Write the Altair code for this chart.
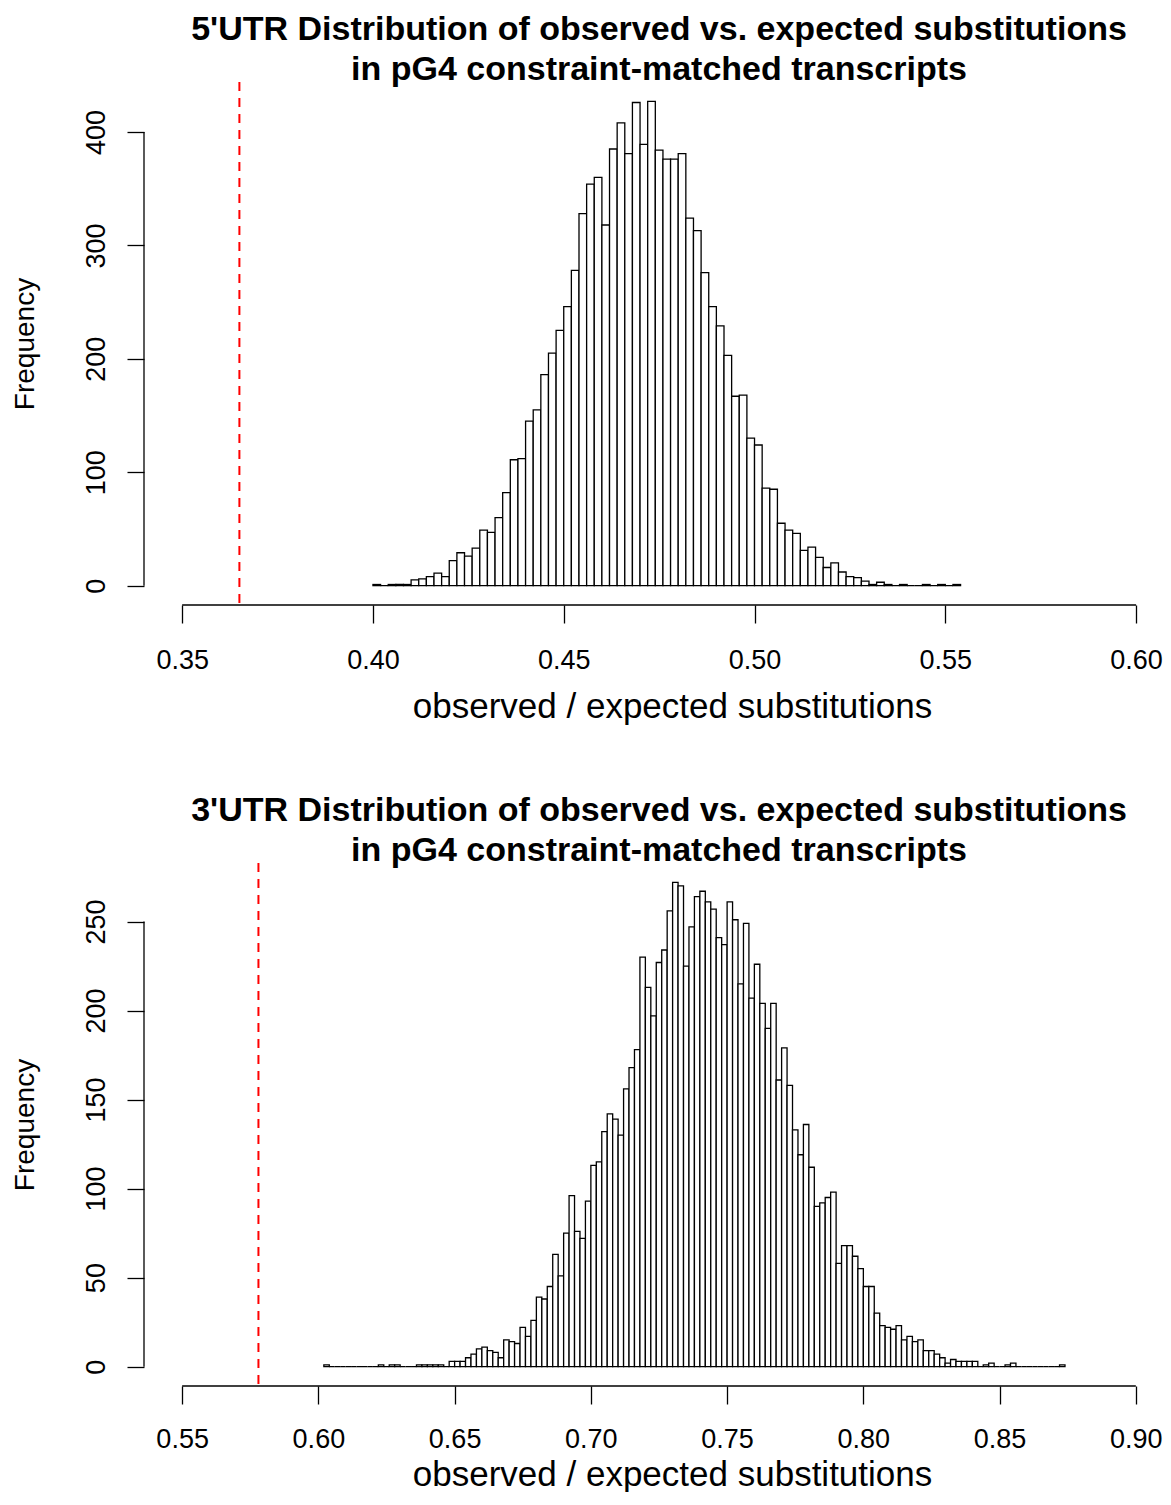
import altair as alt
import pandas as pd

FONT = "Liberation Sans, Arial, Helvetica, sans-serif"

# ---------------- 5'UTR panel ----------------
utr5_title = ["5'UTR Distribution of observed vs. expected substitutions",
              "in pG4 constraint-matched transcripts"]
utr5_bin_start = 0.400
utr5_bin_width = 0.002
utr5_counts = [1, 0, 1, 1, 1, 5, 6, 8, 11, 8,
               22, 29, 26, 33, 49, 47, 60, 82, 111, 112,
               145, 155, 186, 205, 225, 246, 278, 328, 354, 360,
               318, 385, 408, 381, 426, 389, 427, 384, 376, 376,
               381, 324, 313, 276, 246, 229, 203, 167, 168, 130,
               124, 86, 85, 55, 49, 46, 31, 34, 25, 16,
               20, 12, 8, 7, 4, 1, 3, 1, 0, 1,
               0, 0, 1, 0, 1, 0, 1]
utr5_observed = 0.365
utr5_x_ticks = [0.35, 0.40, 0.45, 0.50, 0.55, 0.60]
utr5_y_ticks = [0, 100, 200, 300, 400]
utr5_x_domain = [0.34, 0.606]

# ---------------- 3'UTR panel ----------------
utr3_title = ["3'UTR Distribution of observed vs. expected substitutions",
              "in pG4 constraint-matched transcripts"]
utr3_bin_start = 0.602
utr3_bin_width = 0.002
utr3_counts = [1, 0, 0, 0, 0, 0, 0, 0, 0, 0,
               1, 0, 1, 1, 0, 0, 0, 1, 1, 1,
               1, 1, 0, 3, 3, 3, 5, 7, 10, 11,
               9, 8, 5, 15, 14, 13, 22, 17, 26, 39,
               38, 45, 63, 51, 75, 96, 76, 72, 93, 113,
               115, 132, 142, 139, 130, 156, 168, 178, 230, 213,
               197, 227, 234, 256, 272, 270, 225, 247, 264, 267,
               261, 257, 241, 237, 261, 251, 215, 249, 207, 226,
               204, 190, 204, 161, 179, 158, 133, 119, 136, 112,
               90, 92, 95, 98, 58, 68, 68, 62, 55, 45,
               45, 30, 23, 22, 21, 23, 15, 17, 14, 15,
               9, 9, 7, 5, 2, 4, 3, 3, 3, 3,
               0, 1, 2, 0, 0, 1, 2, 0, 0, 0,
               0, 0, 0, 0, 0, 1]
utr3_observed = 0.578
utr3_x_ticks = [0.55, 0.60, 0.65, 0.70, 0.75, 0.80, 0.85, 0.90]
utr3_y_ticks = [0, 50, 100, 150, 200, 250]
utr3_x_domain = [0.536, 0.9085]

X_TITLE = "observed / expected substitutions"
Y_TITLE = "Frequency"
PANEL_W = 1015
PANEL_H = 523


def panel(counts, start, width, observed, xticks, yticks, title, xdom,
          xtitle_y, xlabel_pad):
    n = len(counts)
    df = pd.DataFrame({
        "x0": [round(start + i * width, 4) for i in range(n)],
        "x1": [round(start + (i + 1) * width, 4) for i in range(n)],
        "count": counts,
        "base": [0] * n,
    })
    ymax = max(counts)
    ydom = [-0.04 * ymax, 1.04 * ymax]
    xs = alt.Scale(domain=xdom, nice=False, zero=False)
    ys = alt.Scale(domain=ydom, nice=False, zero=False)

    bars = alt.Chart(df).mark_rect(
        fill="white", stroke="black", strokeWidth=1.3
    ).encode(
        x=alt.X("x0:Q", scale=xs, axis=alt.Axis(
            values=xticks, format=".2f", title=X_TITLE, domain=False, grid=False,
            tickSize=18, tickWidth=1.3, tickColor="black",
            labelFontSize=27, labelPadding=xlabel_pad, labelBaseline="alphabetic",
            labelColor="black", labelFlush=False, labelOverlap=False,
            labelFont=FONT, titleFont=FONT,
            titleFontSize=35, titleFontWeight="normal", titleColor="black",
            titleBaseline="alphabetic", titleY=xtitle_y, titleX=PANEL_W / 2 + 20.5)),
        x2="x1:Q",
        y=alt.Y("count:Q", scale=ys, axis=alt.Axis(
            values=yticks, format="d", title=Y_TITLE, domain=False, grid=False,
            tickSize=17, tickWidth=1.3, tickColor="black",
            labelFontSize=27, labelPadding=23, labelAngle=270,
            labelAlign="center", labelBaseline="alphabetic",
            labelColor="black", labelFlush=False, labelOverlap=False,
            labelFont=FONT, titleFont=FONT,
            titleFontSize=28, titleFontWeight="normal", titleColor="black",
            titleAngle=270, titleBaseline="bottom", titleX=-105)),
        y2="base:Q",
    )

    xline = alt.Chart(pd.DataFrame({
        "x": [xticks[0]], "x2": [xticks[-1]], "y": [ydom[0]]
    })).mark_rule(color="black", strokeWidth=1.3).encode(
        x=alt.X("x:Q", scale=xs), x2="x2:Q",
        y=alt.Y("y:Q", scale=ys))

    yline = alt.Chart(pd.DataFrame({
        "x": [xdom[0]], "y": [yticks[0]], "y2": [yticks[-1]]
    })).mark_rule(color="black", strokeWidth=1.3).encode(
        x=alt.X("x:Q", scale=xs),
        y=alt.Y("y:Q", scale=ys), y2="y2:Q")

    ref = alt.Chart(pd.DataFrame({
        "x": [observed], "y": [ydom[1]], "y2": [ydom[0]]
    })).mark_rule(color="#ff0000", strokeWidth=2, strokeDash=[9, 7]).encode(
        x=alt.X("x:Q", scale=xs),
        y=alt.Y("y:Q", scale=ys), y2="y2:Q")

    return alt.layer(bars, xline, yline, ref).properties(
        width=PANEL_W, height=PANEL_H,
        title=alt.TitleParams(
            text=title, font=FONT, fontSize=34, fontWeight="bold", color="black",
            anchor="middle", frame="group", baseline="bottom", lineHeight=40,
            offset=-40, dx=7.5),
    )


top = panel(utr5_counts, utr5_bin_start, utr5_bin_width, utr5_observed,
            utr5_x_ticks, utr5_y_ticks, utr5_title, utr5_x_domain, 112, 45)
bottom = panel(utr3_counts, utr3_bin_start, utr3_bin_width, utr3_observed,
               utr3_x_ticks, utr3_y_ticks, utr3_title, utr3_x_domain, 99, 43)

chart = alt.vconcat(top, bottom, spacing=70).properties(
    padding={"left": 3, "top": 5, "right": 0, "bottom": 0},
    background="white",
).configure_view(stroke=None)

chart.save("out.html", embed_options={"renderer": "svg", "actions": False})
